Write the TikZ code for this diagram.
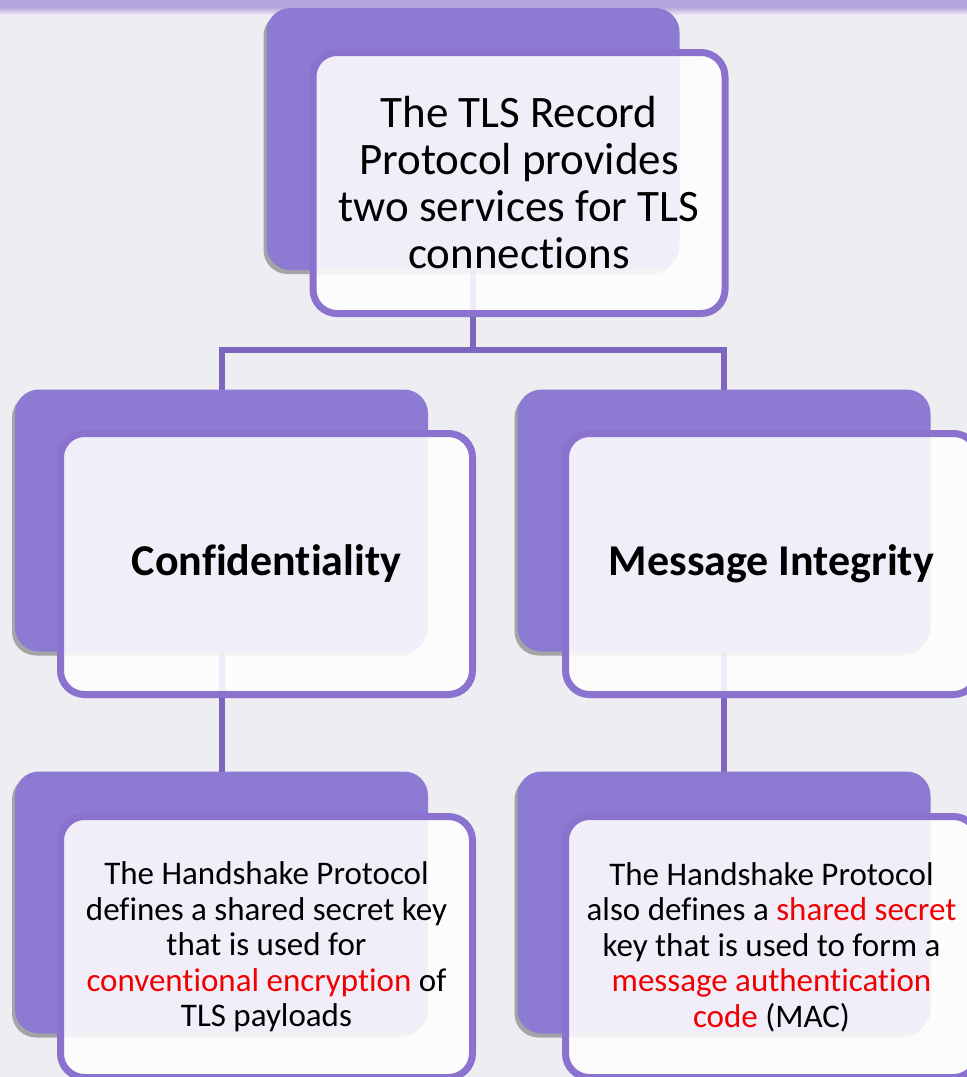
\documentclass[tikz,border=0pt]{standalone}
\usepackage{fontspec}
\setmainfont{Carlito}[Ligatures=NoCommon]
\usetikzlibrary{shadows}
\definecolor{bgpaper}{HTML}{EEEDF2}
\definecolor{bandpurple}{HTML}{B4A4DC}
\definecolor{backpurple}{HTML}{8C7AD3}
\definecolor{rimpurple}{HTML}{8A72CE}
\definecolor{linkpurple}{HTML}{7C66BE}
\definecolor{keyred}{HTML}{F00000}
\tikzset{
  backcard/.style={rectangle, rounded corners=24pt, fill=backpurple,
    minimum width=413pt, minimum height=262pt, inner sep=0pt,
    drop shadow={shadow xshift=-3pt, shadow yshift=-4pt, opacity=.45, fill=black!70}},
  frontcard/.style={rectangle, rounded corners=24pt, draw=rimpurple, line width=7pt,
    fill=white, fill opacity=.88, text opacity=1,
    minimum width=412pt, minimum height=261pt, inner sep=0pt, align=center},
  link/.style={draw=linkpurple, line width=6pt},
  headtxt/.style={font=\fontsize{45}{47}\selectfont},
  titletxt/.style={font=\fontsize{44}{46}\selectfont\bfseries},
  bodytxt/.style={font=\fontsize{33}{35.5}\selectfont},
}
\newcommand{\keyterm}[1]{\textcolor{keyred}{#1}}
\begin{document}
\begin{tikzpicture}[x=1pt, y=-1pt]
  % paper background and top band
  \fill[bgpaper] (0,0) rectangle (967,1077);
  \useasboundingbox (0,0) rectangle (967,1077);
  \fill[bandpurple] (0,0) rectangle (967,7);
  \shade[top color=bandpurple, bottom color=bgpaper] (0,7) rectangle (967,15);

  % card centres and the fork of the links
  \coordinate (tb) at (473,139);
  \coordinate (lb) at (221.5,520.5);
  \coordinate (rb) at (724,520.5);
  \coordinate (llb) at (221.5,902.5);
  \coordinate (rlb) at (724,902.5);
  \coordinate (fork) at (473,350);

  % links between the levels
  \draw[link] (tb) -- (fork);
  \draw[link] (lb) |- (fork) -| (rb);
  \draw[link] (lb) -- (llb);
  \draw[link] (rb) -- (rlb);

  % back cards
  \node[backcard] (topback) at (tb) {};
  \node[backcard] (leftback) at (lb) {};
  \node[backcard] (rightback) at (rb) {};
  \node[backcard] (lowleftback) at (llb) {};
  \node[backcard] (lowrightback) at (rlb) {};

  % front cards with their texts
  \node[frontcard, headtxt] (top) at (519,183)
    {The TLS Record\\Protocol provides\\two services for TLS\\connections};
  \node[frontcard, titletxt] (conf) at (266.5,564) {Confidentiality};
  \node[frontcard, titletxt] (integ) at (771.5,564) {Message Integrity};
  \node[frontcard, bodytxt] (confkey) at (266.5,947)
    {The Handshake Protocol\\defines a shared secret key\\that is used for\\
     \keyterm{conventional encryption} of\\TLS payloads};
  \node[frontcard, bodytxt] (integkey) at (771.5,947)
    {The Handshake Protocol\\also defines a \keyterm{shared secret}\\key that is used to form a\\
     \keyterm{message authentication}\\\keyterm{code} (MAC)};
\end{tikzpicture}
\end{document}
